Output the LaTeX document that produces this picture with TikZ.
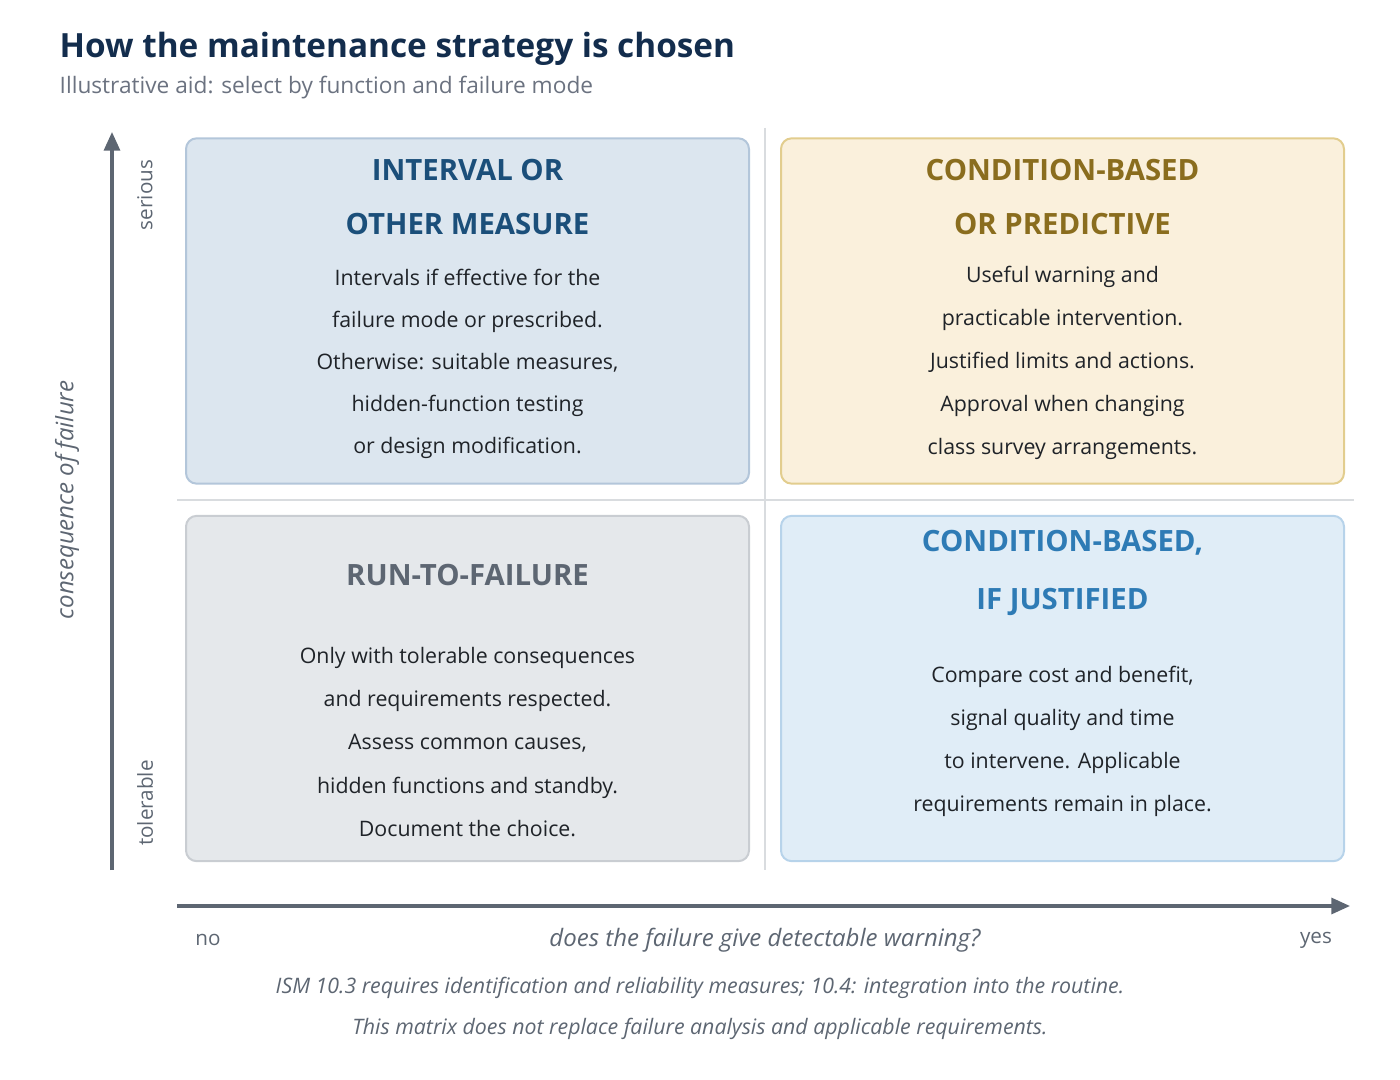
\documentclass[tikz,border=0pt]{standalone}
\usepackage{fontspec}
\setmainfont{Open Sans}
\usetikzlibrary{arrows.meta}
\definecolor{ttl}{HTML}{132D4D}
\definecolor{sub}{HTML}{6B7280}
\definecolor{axis}{HTML}{5D6672}
\definecolor{divc}{HTML}{D9DCDF}
\definecolor{txt}{HTML}{1F2328}
\definecolor{tlf}{RGB}{220,230,239}\definecolor{tld}{RGB}{179,198,218}\definecolor{tlt}{RGB}{27,79,122}
\definecolor{trf}{RGB}{250,240,220}\definecolor{trd}{RGB}{226,205,142}\definecolor{trt}{RGB}{138,109,30}
\definecolor{blf}{RGB}{229,232,235}\definecolor{bld}{RGB}{201,205,210}\definecolor{blt}{RGB}{93,102,114}
\definecolor{brf}{RGB}{224,237,247}\definecolor{brd}{RGB}{183,211,234}\definecolor{brt}{RGB}{46,123,181}
\begin{document}
\begin{tikzpicture}[x=0.75pt,y=-0.75pt,
  box/.style={draw=#1d,fill=#1f,line width=1.5pt,rounded corners=8pt,minimum width=422.25pt,minimum height=259pt},
  head/.style={font=\fontsize{22}{41}\selectfont\bfseries,align=center,text=#1},
  body/.style={font=\fontsize{16}{#1}\selectfont,align=center,text=txt},
  ax/.style={font=\fontsize{15.5}{18}\selectfont,text=axis},
  foot/.style={font=\fontsize{16}{18}\selectfont\itshape,text=axis}]
\useasboundingbox (0,0) rectangle (1400,1080);
\node[anchor=base west,font=\fontsize{25}{30}\selectfont\bfseries,text=ttl] (title) at (55,58) {How the maintenance strategy is chosen};
\node[anchor=base west,font=\fontsize{17}{20}\selectfont,text=sub] (subt) at (55,94) {Illustrative aid: select by function and failure mode};
% boxes
\node[box=tl] (tl) at (467.5,311) {};
\node[box=tr] (tr) at (1062.5,311) {};
\node[box=bl] (bl) at (467.5,688.5) {};
\node[box=br] (br) at (1062.5,688.5) {};
% dividers
\coordinate (v1) at (765,128); \coordinate (v2) at (765,870);
\coordinate (h1) at (177,500); \coordinate (h2) at (1354,500);
\draw[divc,line width=2pt] (v1)--(v2) (h1)--(h2);
% axes
\coordinate (ya) at (112,870); \coordinate (yb) at (112,132);
\coordinate (xa) at (177,906); \coordinate (xb) at (1350,906);
\draw[axis,line width=2.4pt,-{Triangle[length=14pt,width=12pt]}] (ya)--(yb);
\draw[axis,line width=2.4pt,-{Triangle[length=14pt,width=12pt]}] (xa)--(xb);
\node[ax,rotate=90] (ser) at (145,195) {serious};
\node[ax,rotate=90] (tol) at (145,803) {tolerable};
\node[rotate=90,font=\fontsize{18}{20}\selectfont\itshape,text=axis] (cons) at (67,500) {consequence of failure};
\node[ax] (no) at (208,940) {no};
\node[ax] (yes) at (1316,940) {yes};
\node[font=\fontsize{18}{20}\selectfont\itshape,text=axis] (warn) at (765,940) {does the failure give detectable warning?};
\node[foot] (f1) at (700,988) {ISM 10.3 requires identification and reliability measures; 10.4: integration into the routine.};
\node[foot] (f2) at (700,1029) {This matrix does not replace failure analysis and applicable requirements.};
% texts
\node[head=tlt] (tlh) at (467.5,197) {INTERVAL OR\\OTHER MEASURE};
\node[body=31.5] (tlb) at (467.5,364) {Intervals if effective for the\\failure mode or prescribed.\\Otherwise: suitable measures,\\hidden-function testing\\or design modification.};
\node[head=trt] (trh) at (1062.5,197) {CONDITION-BASED\\OR PREDICTIVE};
\node[body=32.2] (trb) at (1062.5,363) {Useful warning and\\practicable intervention.\\Justified limits and actions.\\Approval when changing\\class survey arrangements.};
\node[head=blt] (blh) at (467.5,575) {RUN-TO-FAILURE};
\node[body=32.6] (blb) at (467.5,742) {Only with tolerable consequences\\and requirements respected.\\Assess common causes,\\hidden functions and standby.\\Document the choice.};
\node[head=brt,font=\fontsize{22}{43.5}\selectfont\bfseries] (brh) at (1062.5,573) {CONDITION-BASED,\\IF JUSTIFIED};
\node[body=32.3] (brb) at (1062.5,741) {Compare cost and benefit,\\signal quality and time\\to intervene. Applicable\\requirements remain in place.};
\end{tikzpicture}
\end{document}
